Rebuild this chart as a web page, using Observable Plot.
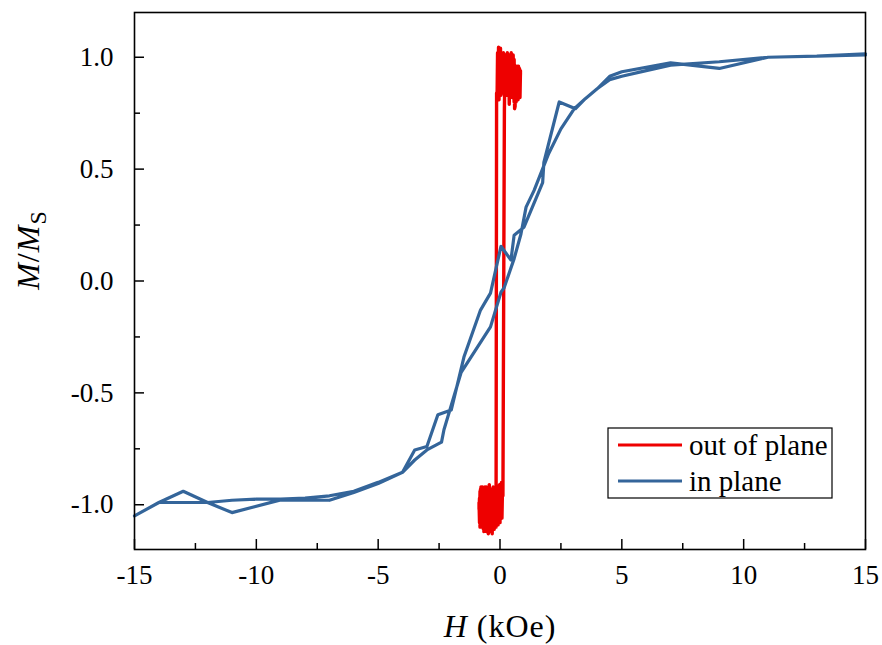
<!DOCTYPE html>
<html>
<head>
<meta charset="utf-8">
<script src="https://cdn.jsdelivr.net/npm/d3@7"></script>
<script src="https://cdn.jsdelivr.net/npm/@observablehq/plot@0.6"></script>
<style>
  html, body { margin: 0; padding: 0; background: white; }
  svg { display: block; }
  svg text { font-family: "Liberation Serif", "Times New Roman", serif !important; }
</style>
</head>
<body>
<div id="chart"></div>
<script>
// ---- in-plane loop (blue) ----
const inDescH = [15, 13, 11, 9, 7, 5, 4.5, 4, 3.5, 3.1, 2.43, 1.8, 1.75, 0.98, 0.58, 0.45, 0.04, -0.39, -0.8, -1.48, -2.0, -2.55, -3.0, -3.5, -4, -5, -6, -7, -9, -11, -12, -13, -14, -15];
const inDescM = [1.015, 1.005, 1.0, 0.95, 0.975, 0.935, 0.915, 0.86, 0.815, 0.77, 0.80, 0.53, 0.44, 0.24, 0.205, 0.094, 0.155, -0.054, -0.13, -0.34, -0.576, -0.598, -0.74, -0.755, -0.855, -0.905, -0.945, -0.98, -0.978, -1.035, -0.99, -0.94, -0.99, -1.05];
const inAscH = [-15, -14, -13, -12, -11, -10, -9, -8, -7, -6, -5, -4, -3.5, -3.0, -2.4, -2.3, -1.6, -0.39, 0.04, 0.17, 0.58, 0.86, 1.07, 1.4, 2.0, 2.5, 3.05, 3.5, 4, 4.5, 5, 6, 7, 9, 11, 13, 15];
const inAscM = [-1.05, -0.99, -0.99, -0.99, -0.98, -0.975, -0.975, -0.97, -0.96, -0.94, -0.9, -0.855, -0.80, -0.755, -0.72, -0.665, -0.41, -0.205, -0.05, -0.03, 0.10, 0.21, 0.33, 0.405, 0.57, 0.68, 0.77, 0.815, 0.86, 0.9, 0.915, 0.94, 0.965, 0.98, 1.0, 1.005, 1.01];

// ---- out-of-plane loop (red), four noisy segments ----
const outTopDescH = [0.84, 0.82, 0.80, 0.78, 0.76, 0.74, 0.72, 0.70, 0.68, 0.66, 0.64, 0.62, 0.60, 0.58, 0.56, 0.54, 0.52, 0.50, 0.48, 0.46, 0.44, 0.42, 0.40, 0.38, 0.36, 0.34, 0.32, 0.30, 0.28, 0.26, 0.24, 0.22, 0.20, 0.18, 0.16, 0.14, 0.12, 0.10, 0.08, 0.06, 0.04, 0.02, 0.00, -0.02, -0.04, -0.06, -0.08, -0.10, -0.12, -0.14];
const outTopDescM = [0.94, 0.82, 0.95, 0.84, 0.96, 0.81, 0.93, 0.85, 0.96, 0.80, 0.91, 0.78,
  0.77, 0.99, 0.86, 1.01, 0.84, 0.98, 0.88, 1.02, 0.85, 0.97, 0.90, 1.01, 0.86, 0.99, 0.84, 1.02, 0.89, 0.96, 0.85, 1.01, 0.87, 0.99, 0.84, 1.02, 0.88, 0.97, 0.85, 1.01,
  0.83, 1.04, 0.86, 1.03, 0.81, 1.045, 0.85, 1.02, 0.82, 0.84];
const outBotDescH = [-0.16, -0.18, -0.20, -0.22, -0.24, -0.26, -0.28, -0.30, -0.32, -0.34, -0.36, -0.38, -0.40, -0.42, -0.44, -0.46, -0.48, -0.50, -0.52, -0.54, -0.56, -0.58, -0.60, -0.62, -0.64, -0.66, -0.68, -0.70, -0.72, -0.74, -0.76, -0.78, -0.80, -0.82, -0.84, -0.86];
const outBotDescM = [-0.92, -1.04, -0.93, -1.10, -0.96, -1.07, -0.92, -1.11, -0.98, -1.05, -0.93,
  -1.12, -0.97, -1.06, -0.91, -1.09, -0.95, -1.11, -0.99, -1.04, -0.92,
  -1.10, -0.96, -1.08, -0.93, -1.12, -0.98, -1.05, -0.92, -1.09, -0.95,
  -1.07, -0.93, -1.10, -0.97, -1.02];
const outBotAscH = [-0.86, -0.84, -0.82, -0.80, -0.78, -0.76, -0.74, -0.72, -0.70, -0.68, -0.66, -0.64, -0.62, -0.60, -0.58, -0.56, -0.54, -0.52, -0.50, -0.48, -0.46, -0.44, -0.42, -0.40, -0.38, -0.36, -0.34, -0.32, -0.30, -0.28, -0.26, -0.24, -0.22, -0.20, -0.18, -0.16, -0.14, -0.12, -0.10, -0.08, -0.06, -0.04, -0.02, 0.00, 0.02, 0.04, 0.06, 0.08, 0.10, 0.12];
const outBotAscM = [-0.99, -1.08, -0.94, -1.06, -0.92, -1.10, -0.97, -1.04, -0.93, -1.11,
  -0.98, -1.05, -0.92, -1.09, -0.96, -1.12, -0.99, -1.03, -0.94, -1.13,
  -0.97, -1.07, -0.93, -1.12, -1.00, -1.06, -0.95, -1.13, -0.98, -1.08,
  -0.94, -1.11, -0.99, -1.05, -0.93, -1.10, -0.97, -1.07, -0.92, -1.09,
  -0.96, -1.04, -0.91, -1.08, -0.95, -1.02, -0.90, -1.06, -0.94, -0.96];
const outTopAscH = [0.18, 0.20, 0.22, 0.24, 0.26, 0.28, 0.30, 0.32, 0.34, 0.36, 0.38, 0.40, 0.42, 0.44, 0.46, 0.48, 0.50, 0.52, 0.54, 0.56, 0.58, 0.60, 0.62, 0.64, 0.66, 0.68, 0.70, 0.72, 0.74, 0.76, 0.78, 0.80, 0.82, 0.84];
const outTopAscM = [0.76, 0.93, 0.84, 1.00, 0.86, 0.97, 0.83, 1.01, 0.88, 0.95, 0.79,
  0.98, 0.85, 1.00, 0.87, 0.96, 0.82, 0.99, 0.86, 0.94, 0.80,
  0.96, 0.83, 0.95, 0.85, 0.93, 0.81, 0.96, 0.84, 0.94, 0.82,
  0.95, 0.86, 0.93];

// ---- ticks ----
const xTicks = [-15, -10, -5, 0, 5, 10, 15];
const xMinor = [-12.5, -7.5, -2.5, 2.5, 7.5, 12.5];
const yTicks = [-1.0, -0.5, 0.0, 0.5, 1.0];
const yMinor = [-0.75, -0.25, 0.25, 0.75];

const blue = "#34659a";
const red = "#ee0000";
const serif = "Liberation Serif";

const pairs = (H, M) => H.map((h, i) => ({H: h, M: M[i]}));
const inPlane = pairs(inDescH, inDescM).concat(pairs(inAscH, inAscM));
const outPlane = pairs(outTopDescH, outTopDescM)
  .concat(pairs(outBotDescH, outBotDescM))
  .concat(pairs(outBotAscH, outBotAscM))
  .concat(pairs(outTopAscH, outTopAscM));

const W = 882, Ht = 645, mL = 134, mR = 17, mT = 12, mB = 96;
const frameW = W - mL - mR, frameH = Ht - mT - mB;

const svg = Plot.plot({
  width: W, height: Ht,
  marginLeft: mL, marginRight: mR, marginTop: mT, marginBottom: mB,
  x: {domain: [-15, 15]},
  y: {domain: [-1.2, 1.2]},
  style: {fontFamily: serif, fontSize: "27px", color: "black", background: "white"},
  marks: [
    Plot.line(outPlane, {x: "H", y: "M", stroke: red, strokeWidth: 3.4, strokeLinejoin: "round"}),
    Plot.line(inPlane, {x: "H", y: "M", stroke: blue, strokeWidth: 3.2, strokeLinejoin: "round"}),
    // inward ticks
    Plot.ruleX(xTicks, {x: d => d, insetTop: frameH - 10, stroke: "black", strokeWidth: 1.5}),
    Plot.ruleX(xMinor, {x: d => d, insetTop: frameH - 6, stroke: "black", strokeWidth: 1.5}),
    Plot.ruleY(yTicks, {y: d => d, insetRight: frameW - 10, stroke: "black", strokeWidth: 1.5}),
    Plot.ruleY(yMinor, {y: d => d, insetRight: frameW - 6, stroke: "black", strokeWidth: 1.5}),
    Plot.axisX({ticks: xTicks, tickSize: 0, tickPadding: 15, tickFormat: d => String(d), label: null, fontSize: 27, fontFamily: serif}),
    Plot.axisY({ticks: yTicks, tickSize: 0, tickPadding: 21, tickFormat: d => d.toFixed(1), label: null, fontSize: 27, fontFamily: serif}),
    Plot.frame({stroke: "black", strokeWidth: 1.6})
  ]
});

document.getElementById("chart").appendChild(svg);

const s = d3.select(svg);
// x-axis label
const xl = s.append("text")
  .attr("x", 500).attr("y", 637)
  .attr("text-anchor", "middle")
  .attr("font-family", serif).attr("font-size", 32).attr("letter-spacing", 1).attr("fill", "black");
xl.append("tspan").attr("font-style", "italic").text("H");
xl.append("tspan").text(" (kOe)");

// y-axis label
const yl = s.append("text")
  .attr("transform", "translate(39,250) rotate(-90)")
  .attr("text-anchor", "middle")
  .attr("font-family", serif).attr("font-size", 32).attr("letter-spacing", 1).attr("fill", "black");
yl.append("tspan").attr("font-style", "italic").text("M");
yl.append("tspan").text("/");
yl.append("tspan").attr("font-style", "italic").text("M");
yl.append("tspan").attr("font-size", 24).attr("dy", 7).text("S");

// legend
const lg = s.append("g");
lg.append("rect").attr("x", 608).attr("y", 428).attr("width", 224).attr("height", 70)
  .attr("fill", "white").attr("stroke", "black").attr("stroke-width", 1.2);
const items = [{label: "out of plane", color: red, y: 445}, {label: "in plane", color: blue, y: 481}];
items.forEach(it => {
  lg.append("line").attr("x1", 618).attr("x2", 682).attr("y1", it.y).attr("y2", it.y)
    .attr("stroke", it.color).attr("stroke-width", 3.2);
  lg.append("text").attr("x", 689).attr("y", it.y + 10)
    .attr("text-anchor", "start")
    .attr("font-family", serif).attr("font-size", 29).attr("fill", "black")
    .text(it.label);
});
</script>
</body>
</html>
